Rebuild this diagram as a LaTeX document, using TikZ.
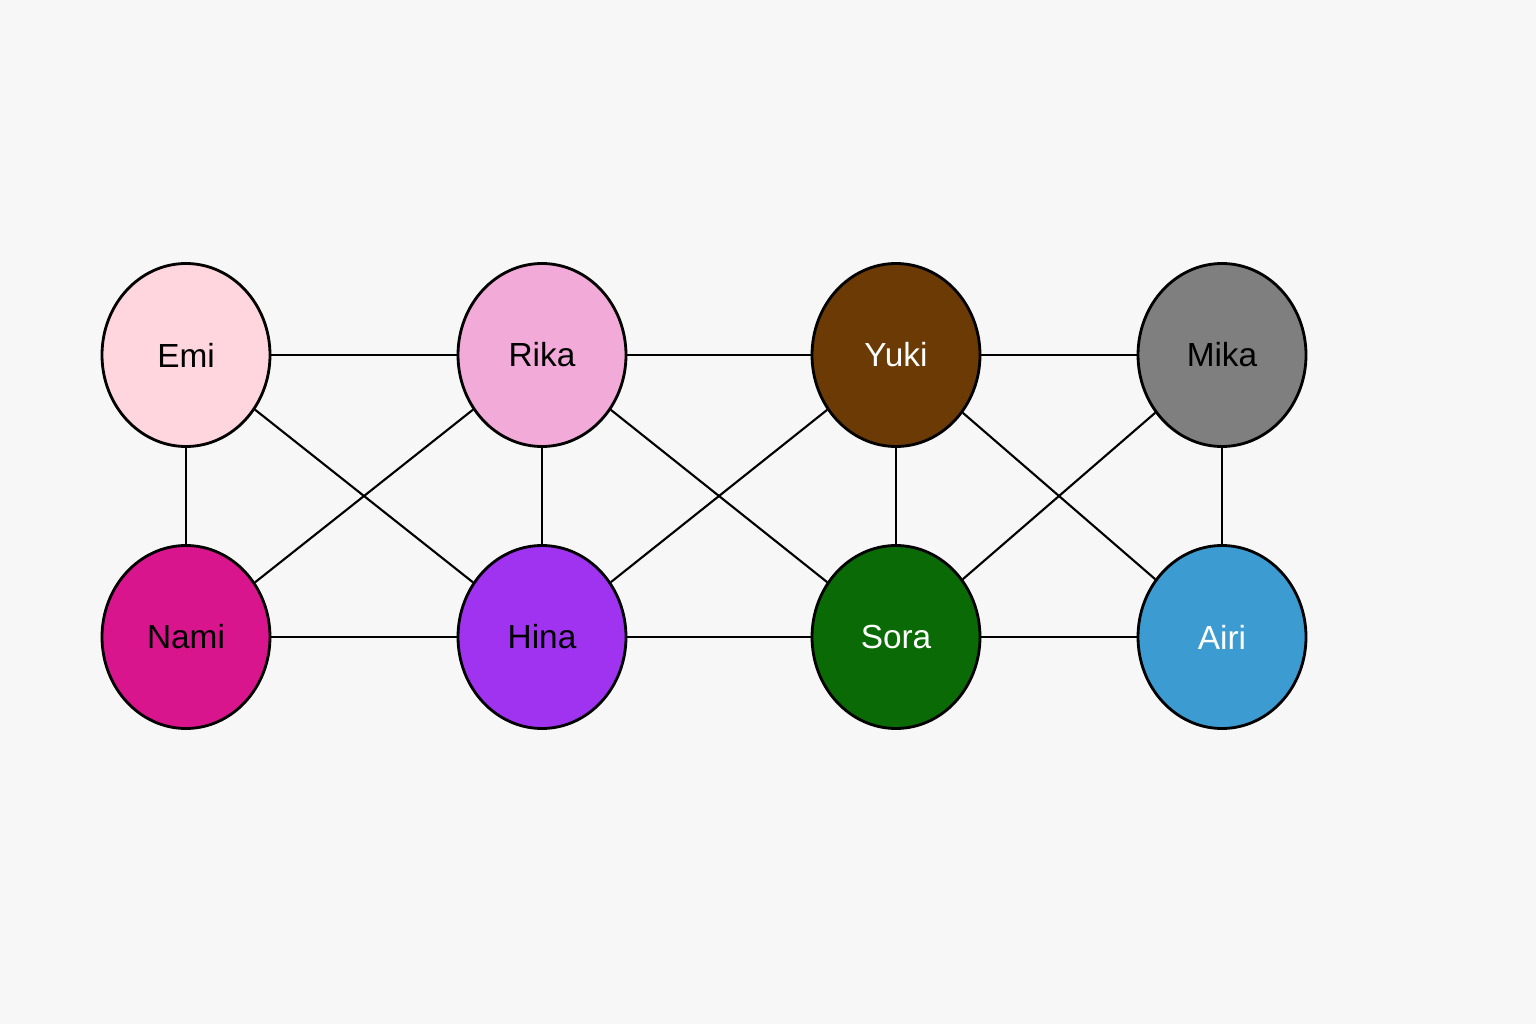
\documentclass[tikz,border=0pt]{standalone}
\usepackage{fontspec}
\setmainfont{Liberation Sans}
\usetikzlibrary{shapes.geometric}
\definecolor{bgcol}{HTML}{F7F7F7}
\definecolor{emicol}{HTML}{FFD6DE}
\definecolor{rikacol}{HTML}{F2AAD8}
\definecolor{yukicol}{HTML}{6B3A05}
\definecolor{mikacol}{HTML}{7F7F7F}
\definecolor{namicol}{HTML}{D9158E}
\definecolor{hinacol}{HTML}{A033F0}
\definecolor{soracol}{HTML}{0A6A05}
\definecolor{airicol}{HTML}{3C9CD2}
\tikzset{
    girl/.style={ellipse, draw=black, line width=0.8pt, minimum width=1.68cm,
      minimum height=1.83cm, inner sep=0pt, font=\fontsize{9.5}{11}\selectfont},
    light/.style={girl, text=black},
    dark/.style={girl, text=white},
    tie/.style={line width=0.6pt, black},
}

\begin{document}
\begin{tikzpicture}
    \fill[bgcol] (0,0) rectangle (15.36,10.24);
    \useasboundingbox (0,0) rectangle (15.36,10.24);

    \node[light, fill=emicol] (emi) at (1.86,6.69) {Emi};
    \node[light, fill=rikacol] (rika) at (5.42,6.69) {Rika};
    \node[dark, fill=yukicol] (yuki) at (8.96,6.69) {Yuki};
    \node[light, fill=mikacol] (mika) at (12.22,6.69) {Mika};

    \node[light, fill=namicol] (nami) at (1.86,3.87) {Nami};
    \node[light, fill=hinacol] (hina) at (5.42,3.87) {Hina};
    \node[dark, fill=soracol] (sora) at (8.96,3.87) {Sora};
    \node[dark, fill=airicol] (airi) at (12.22,3.87) {Airi};

    \draw[tie] (emi) -- (rika);
    \draw[tie] (rika) -- (yuki);
    \draw[tie] (yuki) -- (mika);
    \draw[tie] (nami) -- (hina);
    \draw[tie] (hina) -- (sora);
    \draw[tie] (sora) -- (airi);

    \draw[tie] (emi) -- (nami);
    \draw[tie] (rika) -- (hina);
    \draw[tie] (yuki) -- (sora);
    \draw[tie] (mika) -- (airi);

    \draw[tie] (emi) -- (hina);
    \draw[tie] (rika) -- (nami);
    \draw[tie] (rika) -- (sora);
    \draw[tie] (yuki) -- (hina);
    \draw[tie] (yuki) -- (airi);
    \draw[tie] (mika) -- (sora);
\end{tikzpicture}
\end{document}
